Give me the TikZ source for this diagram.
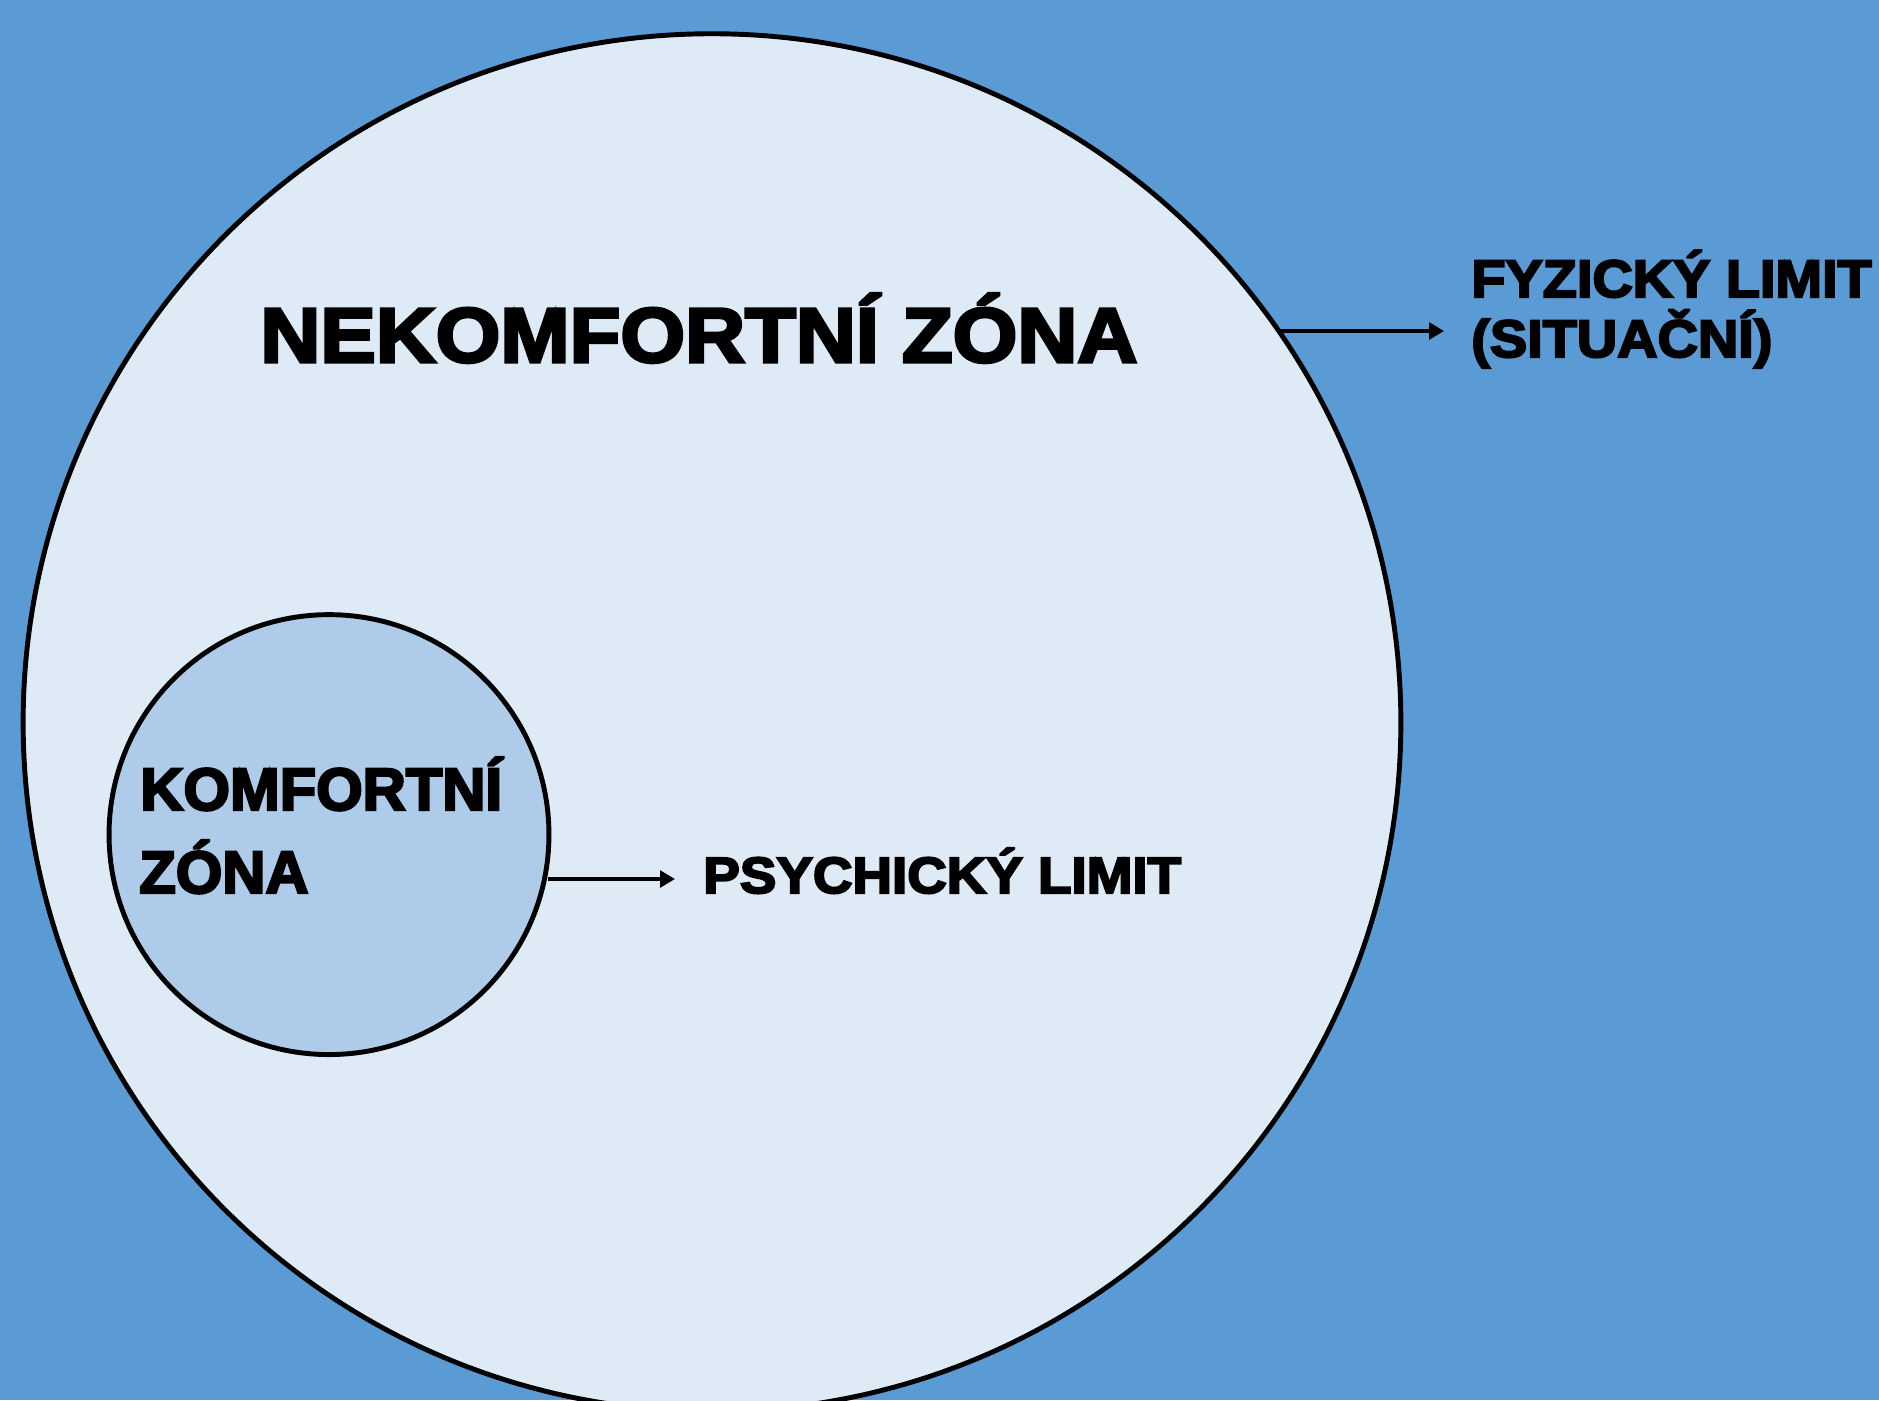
\documentclass[tikz,border=0pt]{standalone}
\usepackage{fontspec}
\newfontfamily\blkw{Liberation Sans Bold}[FakeBold=4, FakeStretch=1.075]
\newfontfamily\blkf{Liberation Sans Bold}[FakeBold=4, FakeStretch=1.06]
\newfontfamily\blkn{Liberation Sans Bold}[FakeBold=4]
\usetikzlibrary{arrows.meta}
\definecolor{bgblue}{RGB}{91,155,213}
\definecolor{lightzone}{RGB}{222,235,247}
\definecolor{midzone}{RGB}{174,204,234}
\tikzset{
  zone/.style={circle, draw=black, line width=2.8pt, inner sep=0pt},
  arr/.style={draw=black, line width=2pt, -{Triangle[length=8.5pt,width=9.5pt]}},
  lbl/.style={inner sep=0pt, anchor=base west, text=black}
}
\begin{document}
\begin{tikzpicture}[x=0.02cm, y=-0.02cm]
\useasboundingbox (0,0) rectangle (1879,1400);
\clip (0,0) rectangle (1879,1400);
\fill[bgblue] (0,0) rectangle (1879,1400);
\node[zone, fill=lightzone, minimum size=27.56cm] (big) at (712,722.6) {};
\node[zone, fill=midzone, minimum size=8.8cm] (small) at (329,834.6) {};
\node[lbl, font=\blkw\fontsize{44}{50}\selectfont] (nz) at (260,362) {NEKOMFORTNÍ ZÓNA};
\node[lbl, font=\blkn\fontsize{34}{40}\selectfont] (kz1) at (140,810) {KOMFORTNÍ};
\node[lbl, font=\blkn\fontsize{34}{40}\selectfont] (kz2) at (139,893) {ZÓNA};
\node[lbl, font=\blkw\fontsize{29}{34}\selectfont] (psy) at (703,893) {PSYCHICKÝ LIMIT};
\node[lbl, font=\blkf\fontsize{30}{36}\selectfont] (fyz1) at (1471,297) {FYZICKÝ LIMIT};
\node[lbl, font=\blkf\fontsize{30}{36}\selectfont] (fyz2) at (1471,357) {(SITUAČNÍ)};
\coordinate (fyzend) at (1444,331);
\coordinate (psyend) at (675,879);
\draw[arr] (big.35.6 |- fyzend) -- (fyzend);
\draw[arr] (small.-10.5 |- psyend) -- (psyend);
\end{tikzpicture}
\end{document}
